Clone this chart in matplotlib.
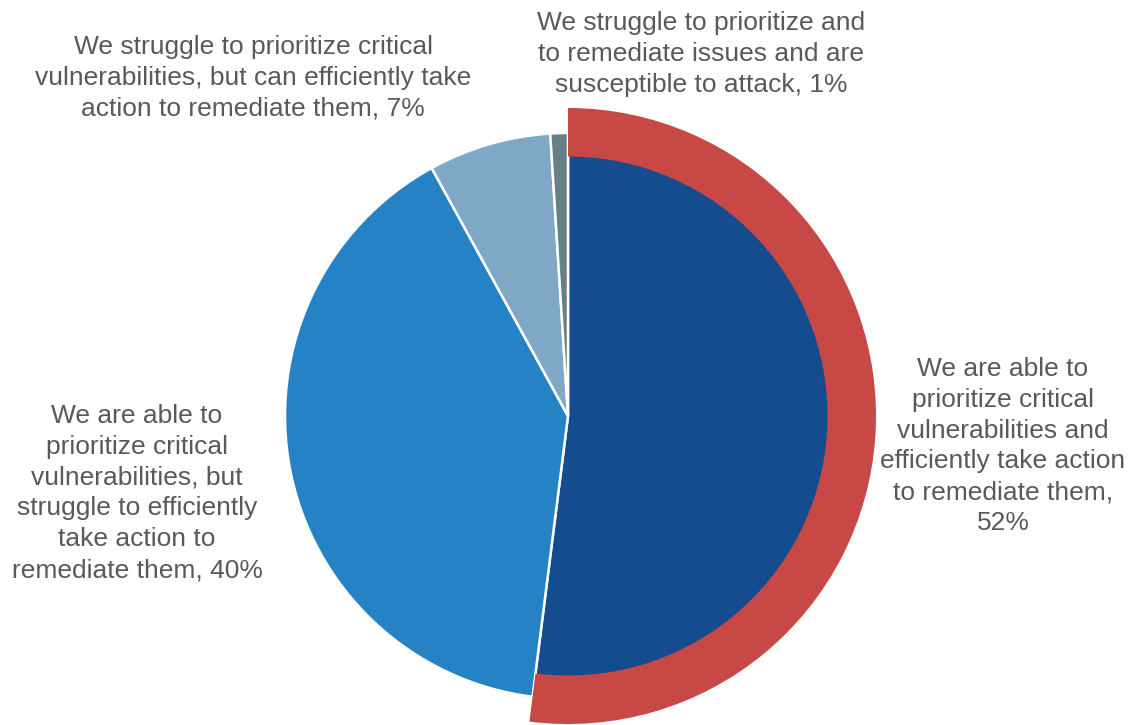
import matplotlib.pyplot as plt

# survey answers, clockwise from 12 o'clock
shares = [52, 40, 7, 1]
labels = [
    "We are able to\nprioritize critical\nvulnerabilities and\nefficiently take action\nto remediate them,\n52%",
    "We are able to\nprioritize critical\nvulnerabilities, but\nstruggle to efficiently\ntake action to\nremediate them, 40%",
    "We struggle to prioritize critical\nvulnerabilities, but can efficiently take\naction to remediate them, 7%",
    "We struggle to prioritize and\nto remediate issues and are\nsusceptible to attack, 1%",
]
slice_colors = ['#144C8F', '#2582C5', '#7FA8C7', '#677F86']
ring_color = '#C84846'

plt.rcParams['font.family'] = ['Liberation Sans', 'DejaVu Sans']

fig = plt.figure(figsize=(11.3, 7.25), dpi=100)
ax = fig.add_axes([0, 0, 1, 1])

cx, cy = 568, 309
wedges, _ = ax.pie(shares, colors=slice_colors, startangle=90, counterclock=False,
                   radius=283, center=(cx, cy),
                   wedgeprops=dict(edgecolor='white', linewidth=1.8))
# the top answer is drawn a bit smaller and wrapped in a red band
wedges[0].set_radius(262)
ax.pie([shares[0], sum(shares[1:])], colors=[ring_color, 'none'], startangle=90,
       counterclock=False, radius=308, center=(cx, cy),
       wedgeprops=dict(width=48.5, edgecolor='none'))

ax.set_xlim(0, 1130)
ax.set_ylim(0, 725)
ax.set_aspect('equal')
ax.axis('off')

label_pos = [(1003, 279), (137, 232), (253, 647), (701, 671)]
for text, (x, y) in zip(labels, label_pos):
    ax.text(x, y, text, ha='center', va='center', multialignment='center',
            fontsize=19, color='#595959', linespacing=1.36)

plt.savefig('out.png', dpi=100)
plt.close()
